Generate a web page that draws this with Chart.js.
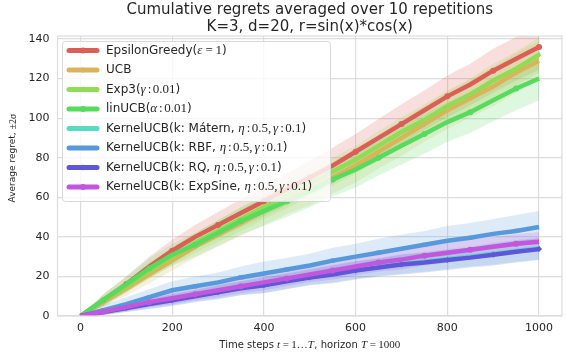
<!DOCTYPE html>
<html>
<head>
<meta charset="utf-8">
<script src="https://cdn.jsdelivr.net/npm/chart.js@4.4.1/dist/chart.umd.min.js"></script>
<style>
  body { margin: 0; background: #fff; }
  canvas { display: block; }
</style>
</head>
<body>
<canvas id="chartCanvas" width="566" height="356"></canvas>
<script>
// time steps (every 50)
const steps = [0, 50, 100, 150, 200, 250, 300, 350, 400, 450, 500, 550, 600, 650, 700, 750, 800, 850, 900, 950, 1000];

const seriesNames = [
    "EpsilonGreedy($ε=1$)",
    "UCB",
    "Exp3($γ:0.01$)",
    "linUCB($α:0.01$)",
    "KernelUCB(k: Mátern, $η:0.5, γ:0.1$)",
    "KernelUCB(k: RBF, $η:0.5, γ:0.1$)",
    "KernelUCB(k: RQ, $η:0.5, γ:0.1$)",
    "KernelUCB(k: ExpSine, $η:0.5, γ:0.1$)"
];

// mean cumulative regret
const epsilonGreedy = [0, 8, 16, 25, 33, 40, 46, 52, 58, 64, 70, 76, 83, 90, 97, 104, 111, 117, 124, 130, 136];
const ucb           = [0, 7, 14, 21, 28, 35, 41, 47, 53, 59, 64, 70, 76, 83, 90, 97, 104, 110, 116, 123, 129];
const exp3          = [0, 8, 15, 23, 30, 37, 43, 49, 55, 61, 67, 73, 79, 86, 93, 99, 106, 112, 119, 125, 132];
const linUcb        = [0, 8, 16, 24, 31, 36, 42, 48, 53, 58, 63, 69, 74, 80, 86, 92, 98, 103, 109, 115, 120];
const kernelMatern  = [0, 2.1, 4.2, 6.3, 8.4, 10.5, 12.3, 14.2, 15.8, 17.8, 19.8, 21.5, 23.3, 24.8, 26.3, 27.5, 28.8, 30.1, 31.5, 32.9, 34.2];
const kernelRbf     = [0, 3, 6, 9.5, 13, 15, 17, 19.5, 21.5, 23.5, 25.5, 28, 30, 32, 34, 36, 38, 39.5, 41.5, 43, 45];
const kernelRq      = [0, 2, 4, 6, 8, 10, 12, 14, 15.5, 17.5, 19.5, 21, 23, 24.5, 26, 27, 28.3, 29.5, 31, 32.5, 33.8];
const kernelExpSine = [0, 2.2, 4.5, 7, 9, 11, 13, 15, 17, 19, 21, 23, 25, 27, 28.5, 30.5, 32, 33.5, 35, 36.5, 37.5];

// 2 sigma half widths
const epsilonGreedyBand = [0, 3, 4, 5, 5.5, 6, 6.5, 7, 7.5, 8, 8.5, 9, 9, 9.5, 10, 10, 10.5, 10.5, 11, 11, 11.5];
const ucbBand           = [0, 2.5, 3.5, 4.5, 5, 5.5, 6, 6.5, 7, 7.5, 8, 8, 8.5, 8.5, 9, 9, 9.5, 9.5, 10, 10, 10];
const exp3Band          = [0, 2, 3, 4, 4.5, 5, 5.5, 6, 6, 6.5, 6.5, 7, 7, 7.5, 7.5, 8, 8, 8, 8.5, 8.5, 9];
const linUcbBand        = [0, 3, 4, 5, 5.5, 6, 6.5, 7, 7.5, 8, 8, 8.5, 9, 9, 9.5, 10, 10, 10.5, 10.5, 11, 11];
const kernelMaternBand  = [0, 1.5, 2, 2.5, 3, 3, 3.5, 3.5, 4, 4, 4, 4.5, 4.5, 4.5, 5, 5, 5, 5, 5.5, 5.5, 5.5];
const kernelRbfBand     = [0, 2.5, 3.5, 4, 4.5, 5, 5, 5.5, 6, 6, 6, 6.5, 6.5, 7, 7, 7, 7.5, 7.5, 7.5, 8, 8];
const kernelRqBand      = [0, 1.5, 2, 2.5, 3, 3, 3.5, 3.5, 4, 4, 4, 4.5, 4.5, 4.5, 5, 5, 5, 5, 5.5, 5.5, 5.5];
const kernelExpSineBand = [0, 1.5, 2, 2.5, 3, 3, 3.5, 3.5, 4, 4, 4, 4.5, 4.5, 4.5, 5, 5, 5, 5, 5, 5, 5];

const xTicks = [0, 200, 400, 600, 800, 1000];
const yTicks = [0, 20, 40, 60, 80, 100, 120, 140];

const titleLines = ["Cumulative regrets averaged over 10 repetitions", "K=3, d=20, r=sin(x)*cos(x)"];
const xLabel = "Time steps $t=1…T$, horizon $T=1000$";
const yLabel = "Average regret, $±2σ$";

const means = [epsilonGreedy, ucb, exp3, linUcb, kernelMatern, kernelRbf, kernelRq, kernelExpSine];
const bands = [epsilonGreedyBand, ucbBand, exp3Band, linUcbBand, kernelMaternBand, kernelRbfBand, kernelRqBand, kernelExpSineBand];

const colors = ["#db5f57", "#dbb45a", "#91db57", "#57db5f", "#57dbc2", "#5799db", "#5f57db", "#c257db"];
const markers = ["circle", "rectRot", "triangle", "circle", "triangle", "rect", "rectRot", "circle"];
const textColor = "#262626";
const gridColor = "#dcdcdc";

const alpha = (hex, a) => {
    let r = parseInt(hex.slice(1, 3), 16), g = parseInt(hex.slice(3, 5), 16), b = parseInt(hex.slice(5, 7), 16);
    return `rgba(${r},${g},${b},${a})`;
};

// text with $...$ parts drawn like mathtext
const mathParts = (text, size) => {
    let parts = [];
    text.split("$").forEach((chunk, i) => {
        if (i % 2 == 0) {
            if (chunk != "") parts.push({ t: chunk, f: `${size}px "DejaVu Sans"`, l: 0, r: 0 });
        } else {
            for (const ch of chunk) {
                if (ch == "=") {
                    parts.push({ t: ch, f: `${size + 1}px "Liberation Serif"`, l: size * 0.22, r: size * 0.22 });
                } else if (ch == ":") {
                    parts.push({ t: ch, f: `${size + 1}px "Liberation Serif"`, l: size * 0.12, r: size * 0.12 });
                } else if (ch == " ") {
                    continue;
                } else if (ch == ",") {
                    parts.push({ t: ch, f: `${size + 1}px "Liberation Serif"`, l: 0, r: size * 0.15 });
                } else if (/[A-Za-z\u0370-\u03FF]/.test(ch)) {
                    parts.push({ t: ch, f: `italic ${size + 1}px "Liberation Serif"`, l: 0, r: 0.5 });
                } else {
                    parts.push({ t: ch, f: `${size + 1}px "Liberation Serif"`, l: 0, r: 0 });
                }
            }
        }
    });
    return parts;
};

const drawMath = (ctx, text, x, y, size, align) => {
    let parts = mathParts(text, size);
    let total = 0;
    for (const p of parts) {
        ctx.font = p.f;
        p.w = ctx.measureText(p.t).width;
        total += p.l + p.w + p.r;
    }
    let cx = align == "center" ? x - total / 2 : x;
    ctx.textAlign = "left";
    ctx.textBaseline = "middle";
    for (const p of parts) {
        ctx.font = p.f;
        cx += p.l;
        ctx.fillText(p.t, cx, y);
        cx += p.w + p.r;
    }
};

const decorPlugin = {
    id: "decor",
    afterDatasetsDraw(chart) {
        const ctx = chart.ctx;
        const area = chart.chartArea;
        ctx.save();

        // frame
        ctx.strokeStyle = gridColor;
        ctx.lineWidth = 1.2;
        ctx.strokeRect(area.left, area.top, area.right - area.left, area.bottom - area.top);

        // legend
        let lx = 62, ly = 41, lw = 268, lh = 160;
        ctx.beginPath();
        ctx.roundRect(lx + 0.5, ly + 0.5, lw, lh, 3);
        ctx.fillStyle = "rgba(255,255,255,0.8)";
        ctx.fill();
        ctx.strokeStyle = "#d8d8d8";
        ctx.lineWidth = 1;
        ctx.stroke();

        for (let i = 0; i < seriesNames.length; i++) {
            let y = 50.5 + i * 19.5;
            ctx.strokeStyle = colors[i];
            ctx.lineWidth = 5;
            ctx.lineCap = "round";
            ctx.beginPath();
            ctx.moveTo(69, y);
            ctx.lineTo(97, y);
            ctx.stroke();
            ctx.fillStyle = colors[i];
            Chart.helpers.drawPoint(ctx, { pointStyle: markers[i], radius: 3, rotation: 0, borderWidth: 0 }, 83, y);
            ctx.fillStyle = textColor;
            drawMath(ctx, seriesNames[i], 106, y, 12, "left");
        }

        ctx.restore();
    },
    afterDraw(chart) {
        const ctx = chart.ctx;
        const area = chart.chartArea;
        ctx.save();
        ctx.fillStyle = textColor;
        ctx.textAlign = "center";
        ctx.textBaseline = "middle";
        ctx.font = '15px "DejaVu Sans"';
        let cx = (area.left + area.right) / 2;
        ctx.fillText(titleLines[0], cx, 10);
        ctx.fillText(titleLines[1], cx, 27);

        drawMath(ctx, xLabel, cx, 345, 10, "center");

        ctx.translate(13, 158);
        ctx.rotate(-Math.PI / 2);
        drawMath(ctx, yLabel, 0, 0, 9, "center");
        ctx.restore();
    }
};

let datasets = [];
let n = seriesNames.length;
for (let i = 0; i < n; i++) {
    datasets.push({
        data: steps.map((t, k) => ({ x: t, y: means[i][k] + bands[i][k] })),
        borderWidth: 0,
        pointRadius: 0,
        fill: "+1",
        backgroundColor: alpha(colors[i], 0.2),
        order: 30 + n - i,
        clip: 0
    });
    datasets.push({
        data: steps.map((t, k) => ({ x: t, y: Math.max(0, means[i][k] - bands[i][k]) })),
        borderWidth: 0,
        pointRadius: 0,
        fill: false,
        order: 30 + n - i,
        clip: 0
    });
}
for (let i = 0; i < n; i++) {
    datasets.push({
        label: seriesNames[i],
        data: steps.map((t, k) => ({ x: t, y: means[i][k] })),
        borderColor: colors[i],
        backgroundColor: colors[i],
        borderWidth: 4.5,
        pointStyle: markers[i],
        pointRadius: (c) => ((c.dataIndex + i) % 2 == 0 && c.dataIndex > 0 ? 3 : 0),
        pointBorderWidth: 0,
        fill: false,
        tension: 0,
        order: n - i,
        clip: 0
    });
}

let chart = new Chart(document.getElementById("chartCanvas"), {
    type: "line",
    data: { datasets: datasets },
    options: {
        responsive: false,
        animation: false,
        devicePixelRatio: 1,
        layout: { padding: { top: 36, right: 4, left: 0, bottom: 0 } },
        plugins: { legend: { display: false }, tooltip: { enabled: false } },
        scales: {
            x: {
                type: "linear",
                min: -50,
                max: 1050,
                afterBuildTicks: (scale) => { scale.ticks = xTicks.map(v => ({ value: v })); },
                afterFit: (scale) => { scale.height = 40; },
                grid: { color: gridColor, lineWidth: 1.2, drawTicks: false },
                border: { display: false },
                ticks: { color: textColor, padding: 6, font: { family: "DejaVu Sans", size: 11 }, maxRotation: 0, callback: (v) => String(v) }
            },
            y: {
                type: "linear",
                min: 0,
                max: 141.5,
                afterBuildTicks: (scale) => { scale.ticks = yTicks.map(v => ({ value: v })); },
                afterFit: (scale) => { scale.width = 57.5; },
                grid: { color: gridColor, lineWidth: 1.2, drawTicks: false },
                border: { display: false },
                ticks: { color: textColor, padding: 8, font: { family: "DejaVu Sans", size: 11 }, callback: (v) => String(v) }
            }
        }
    },
    plugins: [decorPlugin]
});
</script>
</body>
</html>
